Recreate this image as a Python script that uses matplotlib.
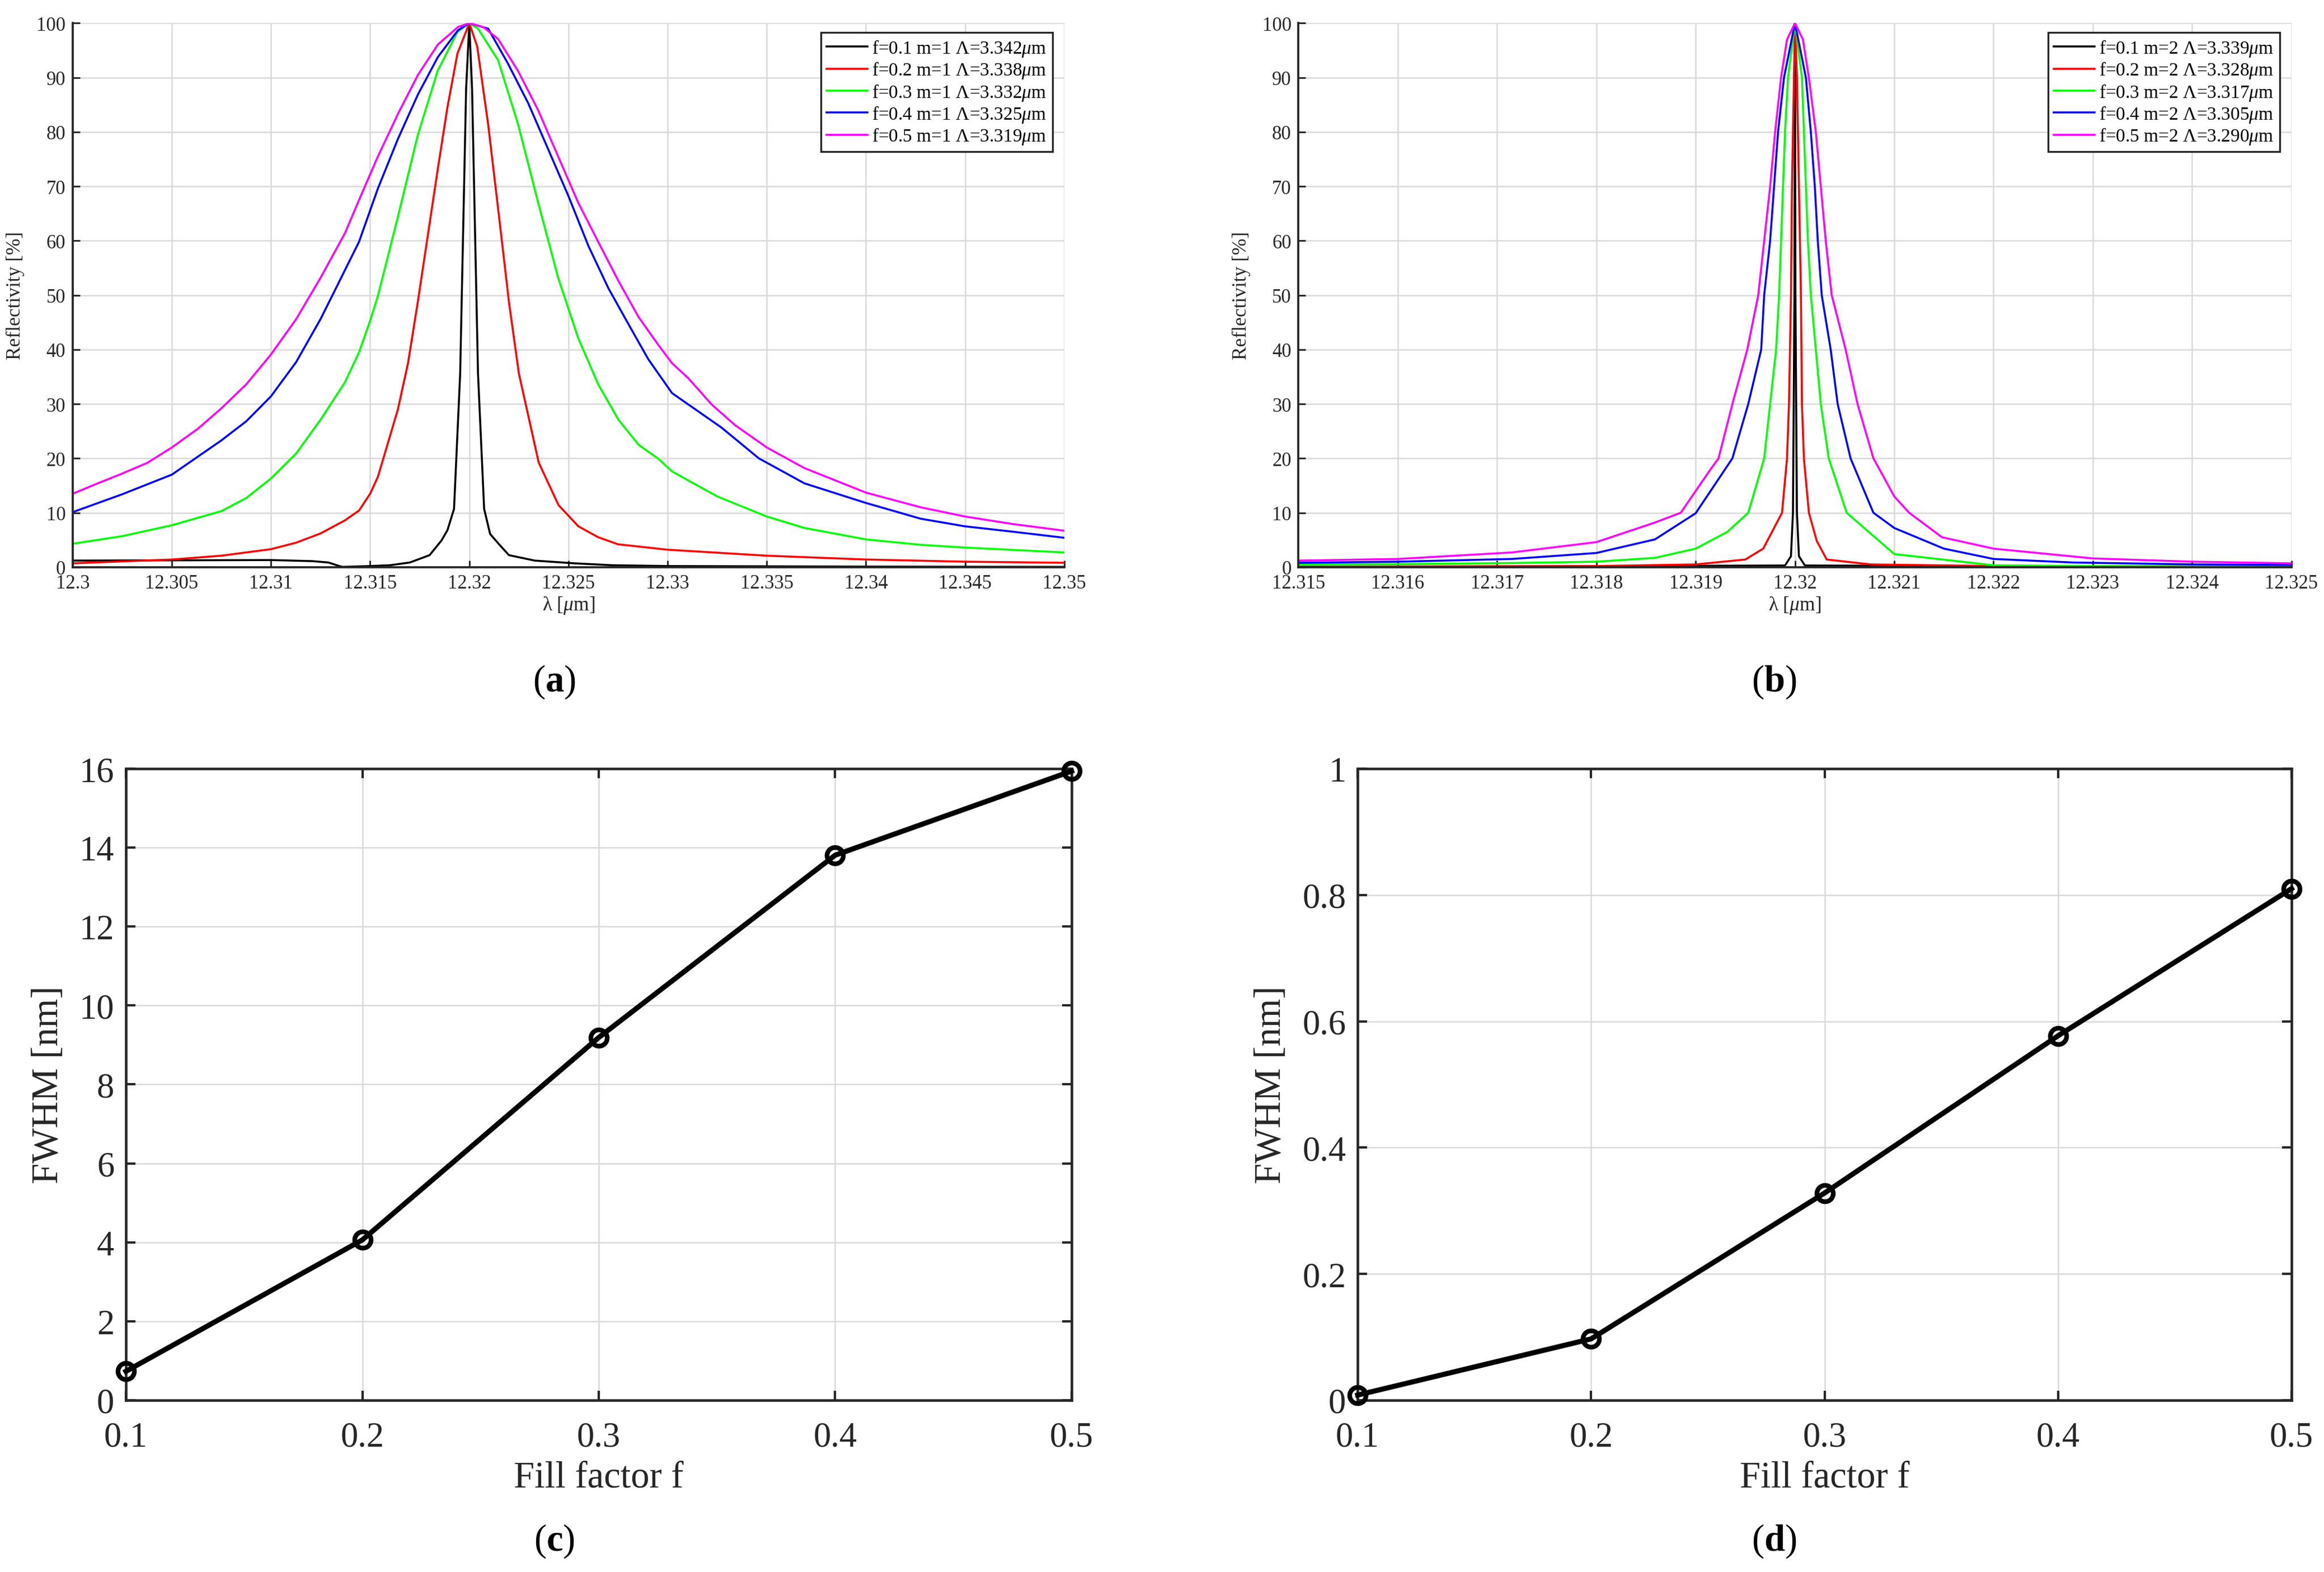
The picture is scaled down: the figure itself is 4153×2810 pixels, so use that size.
import matplotlib
matplotlib.use("Agg")
import matplotlib.pyplot as plt

plt.rcParams['font.family'] = ['Liberation Serif', 'DejaVu Serif']
plt.rcParams['mathtext.fontset'] = 'custom'
plt.rcParams['mathtext.rm'] = 'Liberation Serif'
plt.rcParams['mathtext.it'] = 'Liberation Serif:italic'
plt.rcParams['mathtext.bf'] = 'Liberation Serif:bold'

# ---------------- Panel (a): m = 1 ----------------
a_lam_f01 = [12.300, 12.305, 12.310, 12.3121, 12.3129, 12.3134, 12.3136, 12.315, 12.316, 12.317,
             12.318, 12.3186, 12.3189, 12.31923, 12.31954, 12.31969, 12.31984, 12.3200, 12.32014,
             12.32029, 12.32044, 12.32075, 12.32105, 12.3215, 12.3220, 12.3233, 12.3253, 12.3272,
             12.330, 12.340, 12.350]
a_ref_f01 = [1.2, 1.25, 1.3, 1.1, 0.85, 0.25, 0.05, 0.2, 0.35, 0.85,
             2.2, 4.9, 6.8, 10.7, 35.6, 61.8, 87.9, 100.0, 87.9,
             61.8, 35.6, 10.7, 6.1, 4.2, 2.2, 1.2, 0.7, 0.35,
             0.2, 0.1, 0.05]

a_lam_f02 = [12.300, 12.305, 12.3075, 12.310, 12.31127, 12.3125, 12.31373, 12.31444, 12.315,
             12.31539, 12.3164, 12.31691, 12.3174, 12.3184, 12.3189, 12.3194, 12.3200, 12.3204,
             12.32095, 12.3215, 12.3220, 12.3225, 12.3235, 12.3245, 12.3255, 12.3265, 12.3275,
             12.330, 12.335, 12.340, 12.345, 12.350]
a_ref_f02 = [0.7, 1.4, 2.1, 3.3, 4.5, 6.2, 8.6, 10.4, 13.5,
             16.6, 29.0, 37.5, 48.7, 72.9, 84.6, 94.4, 100.0, 95.7,
             81.4, 64.4, 48.7, 35.6, 19.2, 11.4, 7.5, 5.5, 4.2,
             3.2, 2.1, 1.4, 1.0, 0.8]

a_lam_f03 = [12.300, 12.3025, 12.305, 12.3075, 12.30875, 12.310, 12.31127, 12.3125, 12.31373,
             12.31444, 12.315, 12.3154, 12.3164, 12.3174, 12.3184, 12.3194, 12.3200, 12.32044,
             12.32145, 12.32246, 12.32347, 12.32448, 12.32549, 12.3265, 12.32752, 12.32853,
             12.32954, 12.33022, 12.3325, 12.335, 12.3369, 12.340, 12.34276, 12.345, 12.350]
a_ref_f03 = [4.3, 5.7, 7.7, 10.3, 12.7, 16.3, 20.9, 27.1, 34.0,
             39.5, 45.3, 50.0, 64.4, 79.4, 91.2, 98.4, 100.0, 99.0,
             93.2, 81.4, 67.0, 53.2, 42.1, 33.6, 27.1, 22.5,
             19.9, 17.6, 13.0, 9.3, 7.2, 5.1, 4.1, 3.6, 2.7]

a_lam_f04 = [12.300, 12.3025, 12.305, 12.3075, 12.30875, 12.310, 12.31127, 12.3125, 12.31373,
             12.31444, 12.31539, 12.3164, 12.31741, 12.31842, 12.31943, 12.3200, 12.32095,
             12.32196, 12.32297, 12.32398, 12.32499, 12.3260, 12.32701, 12.32802, 12.32903,
             12.33022, 12.3327, 12.3346, 12.3369, 12.340, 12.34276, 12.345, 12.34745, 12.350]
a_ref_f04 = [10.1, 13.4, 17.0, 23.3, 26.8, 31.4, 37.7, 45.6, 54.6,
             59.8, 69.6, 78.7, 86.9, 93.8, 98.7, 100.0, 99.0,
             92.5, 85.3, 76.8, 68.3, 59.1, 51.3, 44.7, 38.2,
             32.0, 25.7, 20.0, 15.4, 11.8, 8.9, 7.5, 6.5, 5.4]

a_lam_f05 = [12.300, 12.30126, 12.3025, 12.30378, 12.305, 12.3063, 12.3075, 12.30875, 12.310,
             12.31127, 12.3125, 12.31373, 12.3145, 12.31539, 12.3164, 12.31741, 12.31842,
             12.31943, 12.3200, 12.3207, 12.32145, 12.32246, 12.32347, 12.32448, 12.32549,
             12.3265, 12.32752, 12.32853, 12.32954, 12.33022, 12.33105, 12.33222, 12.3334,
             12.335, 12.3369, 12.340, 12.34276, 12.345, 12.34745, 12.350]
a_ref_f05 = [13.5, 15.4, 17.2, 19.2, 22.0, 25.4, 29.2, 33.6, 39.1,
             45.6, 53.2, 61.4, 68.0, 75.5, 83.3, 90.5, 96.1,
             99.3, 100.0, 99.3, 97.1, 91.2, 84.0, 75.5, 67.0,
             59.8, 52.6, 46.0, 40.8, 37.5, 34.7, 29.9, 26.1,
             22.0, 18.2, 13.7, 11.0, 9.3, 7.9, 6.7]

a_labels = [r'f=0.1 m=1 Λ=3.342$\mu$m', r'f=0.2 m=1 Λ=3.338$\mu$m', r'f=0.3 m=1 Λ=3.332$\mu$m',
            r'f=0.4 m=1 Λ=3.325$\mu$m', r'f=0.5 m=1 Λ=3.319$\mu$m']
a_xticks = [12.3, 12.305, 12.31, 12.315, 12.32, 12.325, 12.33, 12.335, 12.34, 12.345, 12.35]
a_xticklabels = ['12.3', '12.305', '12.31', '12.315', '12.32', '12.325', '12.33', '12.335',
                 '12.34', '12.345', '12.35']

# ---------------- Panel (b): m = 2 ----------------
b_lam_f01 = [12.315, 12.3199, 12.31996, 12.31998, 12.319995, 12.3200, 12.320005, 12.32002,
             12.32004, 12.3201, 12.325]
b_ref_f01 = [0.0, 0.3, 2.0, 10.0, 50.0, 100.0, 50.0, 10.0, 2.0, 0.3, 0.0]

b_lam_f02 = [12.315, 12.318, 12.319, 12.3195, 12.31968, 12.31987, 12.31992, 12.31994, 12.31995,
             12.31996, 12.319965, 12.31997, 12.31998, 12.31999, 12.3200, 12.32002, 12.32003,
             12.32004, 12.32005, 12.32006, 12.320065, 12.32007, 12.32009, 12.32014, 12.32022,
             12.32032, 12.32076, 12.322, 12.325]
b_ref_f02 = [0.1, 0.2, 0.5, 1.4, 3.4, 10.0, 20.0, 30.0, 40.0,
             50.0, 60.0, 70.0, 80.0, 90.0, 100.0, 90.0, 80.0,
             70.0, 60.0, 50.0, 40.0, 30.0, 20.0, 10.0, 4.8,
             1.4, 0.5, 0.2, 0.1]

b_lam_f03 = [12.315, 12.316, 12.31715, 12.318, 12.31859, 12.319, 12.31932, 12.31953, 12.31969,
             12.31975, 12.31981, 12.31984, 12.31986, 12.31988, 12.3199, 12.31993, 12.3200,
             12.32007, 12.32009, 12.32011, 12.32013, 12.32016, 12.32021, 12.32026, 12.32034,
             12.32052, 12.321, 12.322, 12.323, 12.325]
b_ref_f03 = [0.5, 0.55, 0.75, 1.0, 1.7, 3.4, 6.5, 10.0, 20.0,
             30.0, 40.0, 50.0, 60.0, 70.0, 80.0, 90.0, 100.0,
             90.0, 80.0, 70.0, 60.0, 50.0, 40.0, 30.0, 20.0,
             10.0, 2.4, 0.34, 0.2, 0.1]

b_lam_f04 = [12.315, 12.316, 12.31715, 12.318, 12.31859, 12.319, 12.31937, 12.31953, 12.31966,
             12.31969, 12.31975, 12.31979, 12.31983, 12.31989, 12.3200, 12.32011, 12.32016,
             12.3202, 12.32023, 12.32027, 12.32036, 12.32043, 12.32056, 12.32079, 12.321,
             12.3215, 12.322, 12.3228, 12.324, 12.325]
b_ref_f04 = [0.8, 1.0, 1.5, 2.6, 5.1, 9.9, 20.0, 30.0, 40.0,
             50.0, 60.0, 70.0, 80.0, 90.0, 100.0, 90.0, 80.0,
             70.0, 60.0, 50.0, 40.0, 30.0, 20.0, 10.0, 7.2,
             3.4, 1.5, 0.85, 0.5, 0.4]

b_lam_f05 = [12.315, 12.316, 12.31715, 12.318, 12.31859, 12.31885, 12.319, 12.31917, 12.31923,
             12.31937, 12.31952, 12.31963, 12.31969, 12.31975, 12.3198, 12.31986, 12.31992,
             12.3200, 12.32008, 12.32014, 12.32021, 12.32026, 12.32031, 12.32037, 12.32051,
             12.32063, 12.32079, 12.321, 12.32115, 12.32148, 12.322, 12.323, 12.324, 12.325]
b_ref_f05 = [1.2, 1.5, 2.7, 4.6, 8.2, 10.0, 14.0, 18.5, 20.0,
             30.0, 40.0, 50.0, 60.0, 70.0, 80.0, 90.0, 97.0,
             100.0, 97.0, 90.0, 80.0, 70.0, 60.0, 50.0, 40.0,
             30.0, 20.0, 13.0, 10.0, 5.5, 3.4, 1.6, 1.0, 0.7]

b_labels = [r'f=0.1 m=2 Λ=3.339$\mu$m', r'f=0.2 m=2 Λ=3.328$\mu$m', r'f=0.3 m=2 Λ=3.317$\mu$m',
            r'f=0.4 m=2 Λ=3.305$\mu$m', r'f=0.5 m=2 Λ=3.290$\mu$m']
b_xticks = [12.315, 12.316, 12.317, 12.318, 12.319, 12.32, 12.321, 12.322, 12.323, 12.324, 12.325]
b_xticklabels = ['12.315', '12.316', '12.317', '12.318', '12.319', '12.32', '12.321', '12.322',
                 '12.323', '12.324', '12.325']

refl_yticks = [0, 10, 20, 30, 40, 50, 60, 70, 80, 90, 100]

# ---------------- Panels (c), (d): FWHM ----------------
fill_factor = [0.1, 0.2, 0.3, 0.4, 0.5]
fwhm_m1 = [0.73, 4.06, 9.19, 13.81, 15.94]
fwhm_m2 = [0.008, 0.097, 0.328, 0.577, 0.81]
c_yticks = [0, 2, 4, 6, 8, 10, 12, 14, 16]
d_yticks = [0, 0.2, 0.4, 0.6, 0.8, 1.0]
d_yticklabels = ['0', '0.2', '0.4', '0.6', '0.8', '1']
ff_ticklabels = ['0.1', '0.2', '0.3', '0.4', '0.5']

series_colors = ['#000000', '#FF0000', '#00FF00', '#0000FF', '#FF00FF']

fig = plt.figure(figsize=(4153 / 300, 2811 / 300), dpi=300)

grid_kw = dict(color='#d9d9d9', linewidth=0.6)


def refl_panel(rect, lams, refs, labels, xticks, xticklabels):
    ax = fig.add_axes(rect)
    for lam, ref, lab, col in zip(lams, refs, labels, series_colors):
        ax.plot(lam, ref, color=col, linewidth=0.85, label=lab, solid_joinstyle='round')
    ax.set_xlim(xticks[0], xticks[-1])
    ax.set_ylim(0, 100)
    ax.set_xticks(xticks)
    ax.set_xticklabels(xticklabels)
    ax.set_yticks(refl_yticks)
    ax.grid(True, **grid_kw)
    ax.set_axisbelow(True)
    for s in ['top', 'right']:
        ax.spines[s].set_visible(False)
    for s in ['left', 'bottom']:
        ax.spines[s].set_linewidth(0.9)
        ax.spines[s].set_color('#262626')
    ax.tick_params(direction='in', length=3, width=0.7, labelsize=8.3, colors='#262626',
                   labelcolor='#262626', pad=3)
    ax.set_ylabel('Reflectivity [%]', fontsize=8.5, color='#262626', labelpad=5)
    ax.set_xlabel(r'λ [$\mu$m]', fontsize=8.5, color='#262626', labelpad=1)
    leg = ax.legend(loc='upper right', bbox_to_anchor=(0.988, 0.983), borderaxespad=0,
                    fontsize=8, frameon=True, fancybox=False, edgecolor='#262626',
                    handlelength=2.2, handletextpad=0.25, labelspacing=0.1,
                    borderpad=0.3, framealpha=1)
    leg.get_frame().set_linewidth(0.8)
    return ax


refl_panel([0.03125, 0.639, 0.4267, 0.3459],
           [a_lam_f01, a_lam_f02, a_lam_f03, a_lam_f04, a_lam_f05],
           [a_ref_f01, a_ref_f02, a_ref_f03, a_ref_f04, a_ref_f05],
           a_labels, a_xticks, a_xticklabels)
refl_panel([0.5587, 0.639, 0.4273, 0.3459],
           [b_lam_f01, b_lam_f02, b_lam_f03, b_lam_f04, b_lam_f05],
           [b_ref_f01, b_ref_f02, b_ref_f03, b_ref_f04, b_ref_f05],
           b_labels, b_xticks, b_xticklabels)


def fwhm_panel(rect, values, yticks, yticklabels, ylim):
    ax = fig.add_axes(rect)
    ax.plot(fill_factor, values, color='black', linewidth=2.2, marker='o', markersize=7,
            markerfacecolor='none', markeredgewidth=2.0, markeredgecolor='black', clip_on=False,
            zorder=3)
    ax.set_xlim(0.1, 0.5)
    ax.set_ylim(*ylim)
    ax.set_xticks(fill_factor)
    ax.set_xticklabels(ff_ticklabels)
    ax.set_yticks(yticks)
    if yticklabels is not None:
        ax.set_yticklabels(yticklabels)
    ax.grid(True, **grid_kw)
    ax.set_axisbelow(True)
    for s in ax.spines.values():
        s.set_linewidth(1.1)
        s.set_color('#262626')
    ax.tick_params(direction='in', length=4, width=1.0, labelsize=15, colors='#262626',
                   labelcolor='#262626', top=True, right=True)
    ax.tick_params(axis='x', pad=9)
    ax.tick_params(axis='y', pad=5)
    ax.set_xlabel('Fill factor f', fontsize=16, color='#262626', labelpad=3)
    ax.set_ylabel('FWHM [nm]', fontsize=16, color='#262626', labelpad=6)
    return ax


fwhm_panel([0.0542, 0.1093, 0.4069, 0.4015], fwhm_m1, c_yticks, None, (0, 16))
fwhm_panel([0.5842, 0.1093, 0.4018, 0.4015], fwhm_m2, d_yticks, d_yticklabels, (0, 1))

fig.text(0.2385, 0.5665, r'($\mathbf{a}$)', ha='center', va='center', fontsize=16)
fig.text(0.7634, 0.5665, r'($\mathbf{b}$)', ha='center', va='center', fontsize=16)
fig.text(0.2385, 0.0198, r'($\mathbf{c}$)', ha='center', va='center', fontsize=16)
fig.text(0.7634, 0.0198, r'($\mathbf{d}$)', ha='center', va='center', fontsize=16)

fig.savefig('out.png', dpi=300, facecolor='white')
